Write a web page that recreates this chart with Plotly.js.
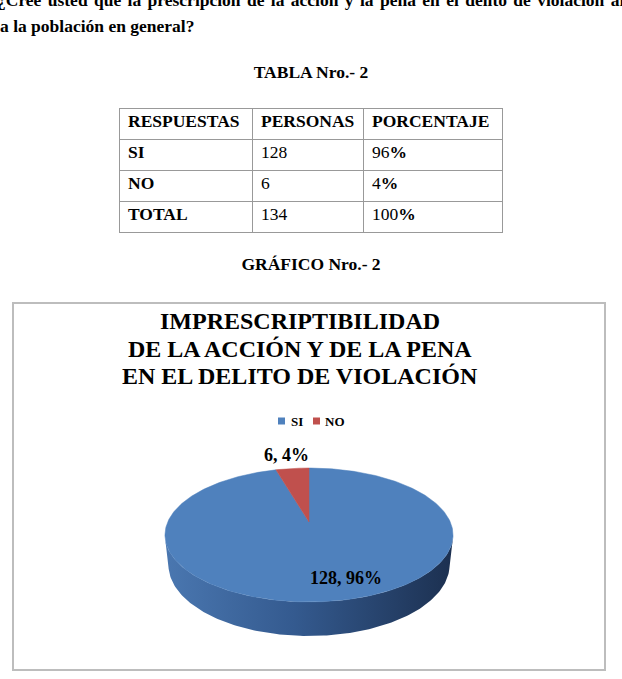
<!DOCTYPE html>
<html>
<head>
<meta charset="utf-8">
<script src="https://cdn.plot.ly/plotly-3.0.1.min.js"></script>
<style>
  html, body { margin:0; padding:0; background:#fff; }
  body { width:622px; height:679px; position:relative; overflow:hidden;
         font-family:"Liberation Serif","Times New Roman","DejaVu Serif",serif; color:#000; }
  .line { position:absolute; white-space:nowrap; font-weight:bold; font-size:17.5px; line-height:20px;
          font-family:"Liberation Serif","Times New Roman","DejaVu Serif",serif; }
  #tabla { position:absolute; left:119px; top:108px; border-collapse:collapse; font-size:17.5px;
           font-family:"Liberation Serif","Times New Roman","DejaVu Serif",serif; }
  #tabla td { border:1px solid #999; height:31px; padding:2px 8px 0 8px; line-height:20px;
              vertical-align:top; box-sizing:border-box;
              font-family:"Liberation Serif","Times New Roman","DejaVu Serif",serif; font-weight:normal; }
  #tabla td.b { font-weight:bold; }
  #tabla b { font-weight:bold; }
  #chartBox { position:absolute; left:12px; top:302px; width:594px; height:369px;
              border:2px solid #bdbdbd; box-sizing:border-box; }
  #chart { width:590px; height:365px; }
</style>
</head>
<body>
<div class="line" id="q1" style="left:-3px; top:-10px; word-spacing:2px;"></div>
<div class="line" id="q2" style="left:0px; top:16px;"></div>
<div class="line" id="tt" style="left:0; width:622px; text-align:center; top:62px;"></div>
<table id="tabla"></table>
<div class="line" id="gt" style="left:0; width:622px; text-align:center; top:254px;"></div>
<div id="chartBox"><div id="chart"></div></div>
<script>
// ---------------- data ----------------
const preguntaLinea1 = "¿Cree usted que la prescripción de la acción y la pena en el delito de violación afecta";
const preguntaLinea2 = "a la población en general?";
const tablaTitulo = "TABLA Nro.- 2";
const graficoTitulo = "GRÁFICO Nro.- 2";
const encabezados = ["RESPUESTAS", "PERSONAS", "PORCENTAJE"];
const respuestas = ["SI", "NO"];
const personas = [128, 6];
const porcentajes = [96, 4];
const totalEtiqueta = "TOTAL";
const totalPersonas = [134];
const totalPorcentaje = [100];
const tituloGrafico = ["IMPRESCRIPTIBILIDAD", "DE LA ACCIÓN Y DE LA PENA", "EN EL DELITO DE VIOLACIÓN"];
const colores = ["#4F81BD", "#C0504D"];
const coloresLado = [
  [[0, "#4a77b0"], [0.45, "#345a8f"], [1, "#1c3050"]],
  [[0, "#b04a47"], [0.45, "#8f3a38"], [1, "#5a2423"]]
];

// ---------------- document text ----------------
document.getElementById("q1").textContent = preguntaLinea1;
document.getElementById("q2").textContent = preguntaLinea2;
document.getElementById("tt").textContent = tablaTitulo;
document.getElementById("gt").textContent = graficoTitulo;

const widths = [133, 111, 139];
const tbl = document.getElementById("tabla");
function addRow(cells, isHeader) {
  const tr = document.createElement("tr");
  cells.forEach((c, i) => {
    const td = document.createElement("td");
    td.style.width = widths[i] + "px";
    if (isHeader || i === 0) td.className = "b";
    td.innerHTML = c;
    tr.appendChild(td);
  });
  tbl.appendChild(tr);
}
addRow(encabezados, true);
respuestas.forEach((r, i) => addRow([r, String(personas[i]), porcentajes[i] + "<b>%</b>"], false));
addRow([totalEtiqueta, String(totalPersonas[0]), totalPorcentaje[0] + "<b>%</b>"], false);

// ---------------- 3D pie projection ----------------
const W = 590, H = 365;
const P = { cx: 295, cy: 218, F: 648.6, D: 4.59, sb: 0.456, cb: 0.890, h: 0.24 };
function proj(thDeg, r, z) {
  const t = thDeg * Math.PI / 180;
  const X = r * Math.sin(t), Y = r * Math.cos(t);
  const depth = Y * P.cb - z * P.sb + P.D;
  return [P.cx + P.F * X / depth, P.cy - P.F * (Y * P.sb + z * P.cb) / depth];
}
const total = personas.reduce((a, b) => a + b, 0);
const slices = [];
let acc = 0;
personas.forEach((v, i) => {
  const a0 = acc / total * 360;
  acc += v;
  const a1 = acc / total * 360;
  slices.push({ a0, a1, i });
});

const silTheta = Math.acos(-1 / (P.D * P.cb)) * 180 / Math.PI;
const visLo = silTheta, visHi = 360 - silTheta;

const traces = [];
// side walls (front visible part)
slices.forEach(s => {
  const lo = Math.max(s.a0, visLo), hi = Math.min(s.a1, visHi);
  if (hi <= lo) return;
  const xs = [], ys = [];
  const n = Math.max(2, Math.ceil(hi - lo));
  for (let k = 0; k <= n; k++) { const p = proj(lo + (hi - lo) * k / n, 1, 0); xs.push(p[0]); ys.push(p[1]); }
  for (let k = n; k >= 0; k--) { const p = proj(lo + (hi - lo) * k / n, 1, -P.h); xs.push(p[0]); ys.push(p[1]); }
  traces.push({ type: "scatter", mode: "lines", x: xs, y: ys, fill: "toself",
    fillgradient: { type: "horizontal", colorscale: coloresLado[s.i] },
    line: { width: 0, color: "rgba(0,0,0,0)" }, showlegend: false, hoverinfo: "skip", name: respuestas[s.i] });
});
// top faces
slices.forEach(s => {
  const xs = [P.cx], ys = [P.cy];
  const n = Math.max(2, Math.ceil(s.a1 - s.a0));
  for (let k = 0; k <= n; k++) { const p = proj(s.a0 + (s.a1 - s.a0) * k / n, 1, 0); xs.push(p[0]); ys.push(p[1]); }
  xs.push(P.cx); ys.push(P.cy);
  traces.push({ type: "scatter", mode: "lines", x: xs, y: ys, fill: "toself",
    fillcolor: colores[s.i], line: { width: 0.5, color: colores[s.i] },
    showlegend: false, hoverinfo: "skip", name: respuestas[s.i] });
});

const serif = "Liberation Serif";
const annotations = [];
// chart title (one annotation per line for exact line spacing)
const titleY = [17, 44.5, 72];
tituloGrafico.forEach((t, i) => annotations.push({
  x: 286, y: titleY[i], xref: "x", yref: "y", text: t, showarrow: false,
  font: { family: serif, size: 24, color: "#000", weight: "bold" }, xanchor: "center", yanchor: "middle"
}));
// data labels
const labelPos = [[332, 274], [272, 151]];
respuestas.forEach((r, i) => annotations.push({
  x: labelPos[i][0], y: labelPos[i][1], xref: "x", yref: "y",
  text: personas[i] + ", " + porcentajes[i] + "%", showarrow: false,
  font: { family: serif, size: 18, color: "#000", weight: "bold" },
  xanchor: "center", yanchor: "middle"
}));
// legend (compact, Excel-like)
const legSq = [[264, 117], [299, 117]];
const legTx = [275, 309];
const shapes = [];
respuestas.forEach((r, i) => {
  shapes.push({ type: "rect", xref: "x", yref: "y", x0: legSq[i][0], x1: legSq[i][0] + 7,
    y0: legSq[i][1] - 3.5, y1: legSq[i][1] + 3.5, fillcolor: colores[i], line: { width: 0 } });
  annotations.push({ x: legTx[i], y: legSq[i][1], xref: "x", yref: "y", text: r, showarrow: false,
    font: { family: serif, size: 13, color: "#000", weight: "bold" }, xanchor: "left", yanchor: "middle" });
});

const layout = {
  width: W, height: H,
  margin: { l: 0, r: 0, t: 0, b: 0 },
  paper_bgcolor: "#fff", plot_bgcolor: "#fff",
  xaxis: { range: [0, W], visible: false, fixedrange: true },
  yaxis: { range: [H, 0], visible: false, fixedrange: true },
  annotations: annotations,
  shapes: shapes,
  showlegend: false
};
Plotly.newPlot("chart", traces, layout, { staticPlot: true, displayModeBar: false });
</script>
</body>
</html>
